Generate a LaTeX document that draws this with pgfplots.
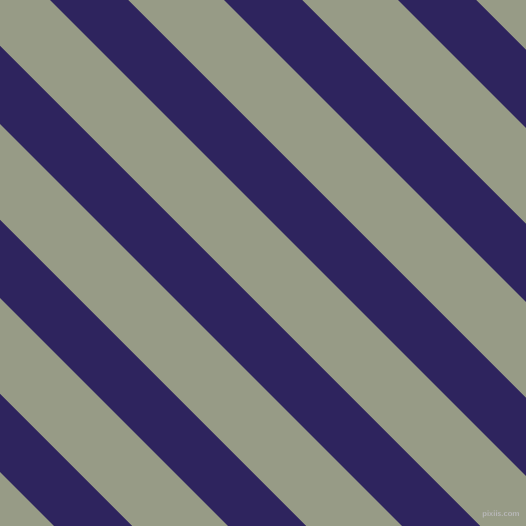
\documentclass[border=0pt]{standalone}
\usepackage{pgfplots}
\pgfplotsset{compat=1.18}
\definecolor{sage}{HTML}{979B86}
\definecolor{navy}{HTML}{2E245E}
\begin{document}
\begin{tikzpicture}
\begin{axis}[
    scale only axis,
    width=10cm, height=10cm,
    xmin=0, xmax=526, ymin=0, ymax=526,
    hide axis,
    clip=true,
]
% background
\addplot[fill=sage, draw=none] coordinates {(0,0) (526,0) (526,526) (0,526)} -- cycle;
% navy stripes, x+y from a to a+78, period 174
\addplot[fill=navy, draw=none] coordinates {(64,-10) (-486,540) (-408,540) (142,-10)} -- cycle;
\addplot[fill=navy, draw=none] coordinates {(238,-10) (-312,540) (-234,540) (316,-10)} -- cycle;
\addplot[fill=navy, draw=none] coordinates {(412,-10) (-138,540) (-60,540) (490,-10)} -- cycle;
\addplot[fill=navy, draw=none] coordinates {(586,-10) (36,540) (114,540) (664,-10)} -- cycle;
\addplot[fill=navy, draw=none] coordinates {(760,-10) (210,540) (288,540) (838,-10)} -- cycle;
\addplot[fill=navy, draw=none] coordinates {(934,-10) (384,540) (462,540) (1012,-10)} -- cycle;
\node[text=white!72!black, font=\fontsize{4.5}{5}\selectfont\sffamily\bfseries, inner sep=0pt]
    at (axis cs:501,11) {pixiis.com};
\end{axis}
\pgfresetboundingbox
\path (current axis.south west) rectangle (current axis.north east);
\end{tikzpicture}
\end{document}
